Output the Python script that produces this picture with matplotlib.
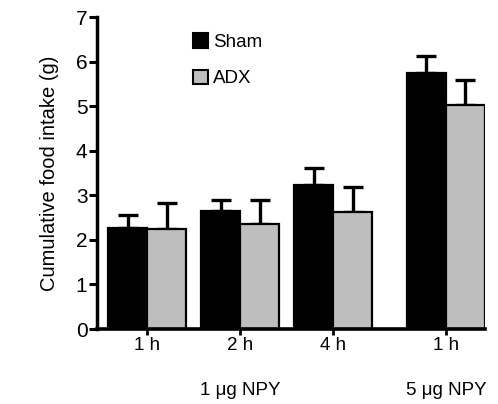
import matplotlib
matplotlib.use('Agg')
import matplotlib.pyplot as plt
import numpy as np
from matplotlib.patches import Patch

plt.rcParams['font.family'] = ['Liberation Sans', 'DejaVu Sans']

# group positions (last group set a bit apart) and labels
group_x = [0, 1, 2, 3.215]
tick_labels = ['1 h', '2 h', '4 h', '1 h']
dose_labels = ['1 μg NPY', '5 μg NPY']
dose_x = [1, 3.215]

sham = [2.26, 2.65, 3.23, 5.74]
sham_err = [0.30, 0.24, 0.38, 0.38]
adx = [2.24, 2.35, 2.62, 5.02]
adx_err = [0.58, 0.54, 0.56, 0.58]

grey = '#bebebe'
w = 0.42

fig = plt.figure(figsize=(4.98, 4.04), dpi=100)
ax = fig.add_axes([0.195, 0.1856, 0.779, 0.772])

x = np.array(group_x)
zeros = [0] * len(x)

ax.errorbar(x - w / 2, sham, yerr=[zeros, sham_err], fmt='none', ecolor='black',
            elinewidth=2.4, capsize=7.5, capthick=2.4, zorder=1)
ax.errorbar(x + w / 2, adx, yerr=[zeros, adx_err], fmt='none', ecolor='black',
            elinewidth=2.4, capsize=7.5, capthick=2.4, zorder=1)
ax.bar(x - w / 2, sham, width=w, color='black', edgecolor='black', linewidth=1.6, zorder=2)
ax.bar(x + w / 2, adx, width=w, color=grey, edgecolor='black', linewidth=1.6, zorder=2)

ax.set_xlim(-0.54, 3.637)
ax.set_ylim(0, 7)
ax.set_yticks(range(0, 8))
ax.set_xticks(group_x)
ax.set_xticklabels(tick_labels)

for s in ['top', 'right']:
    ax.spines[s].set_visible(False)
ax.spines['left'].set_linewidth(2.5)
ax.spines['bottom'].set_linewidth(2.6)
ax.tick_params(axis='y', direction='out', length=6, width=2.2, labelsize=15, pad=1)
ax.tick_params(axis='x', direction='out', length=4, width=2, labelsize=13.5, pad=2)

ax.set_ylabel('Cumulative food intake (g)', fontsize=14.5, labelpad=12)

for dx, lab in zip(dose_x, dose_labels):
    ax.text(dx, -0.196, lab, transform=ax.get_xaxis_transform(), ha='center',
            va='center', fontsize=13.5)

handles = [Patch(facecolor='black', edgecolor='black', linewidth=1.5),
           Patch(facecolor=grey, edgecolor='black', linewidth=1.5)]
ax.legend(handles, ['Sham', 'ADX'], loc='upper left', bbox_to_anchor=(0.222, 0.978),
          frameon=False, borderpad=0, fontsize=13.5, handlelength=0.8, handleheight=0.8,
          handletextpad=0.3, labelspacing=1.0)

fig.savefig('out.png', dpi=100)
